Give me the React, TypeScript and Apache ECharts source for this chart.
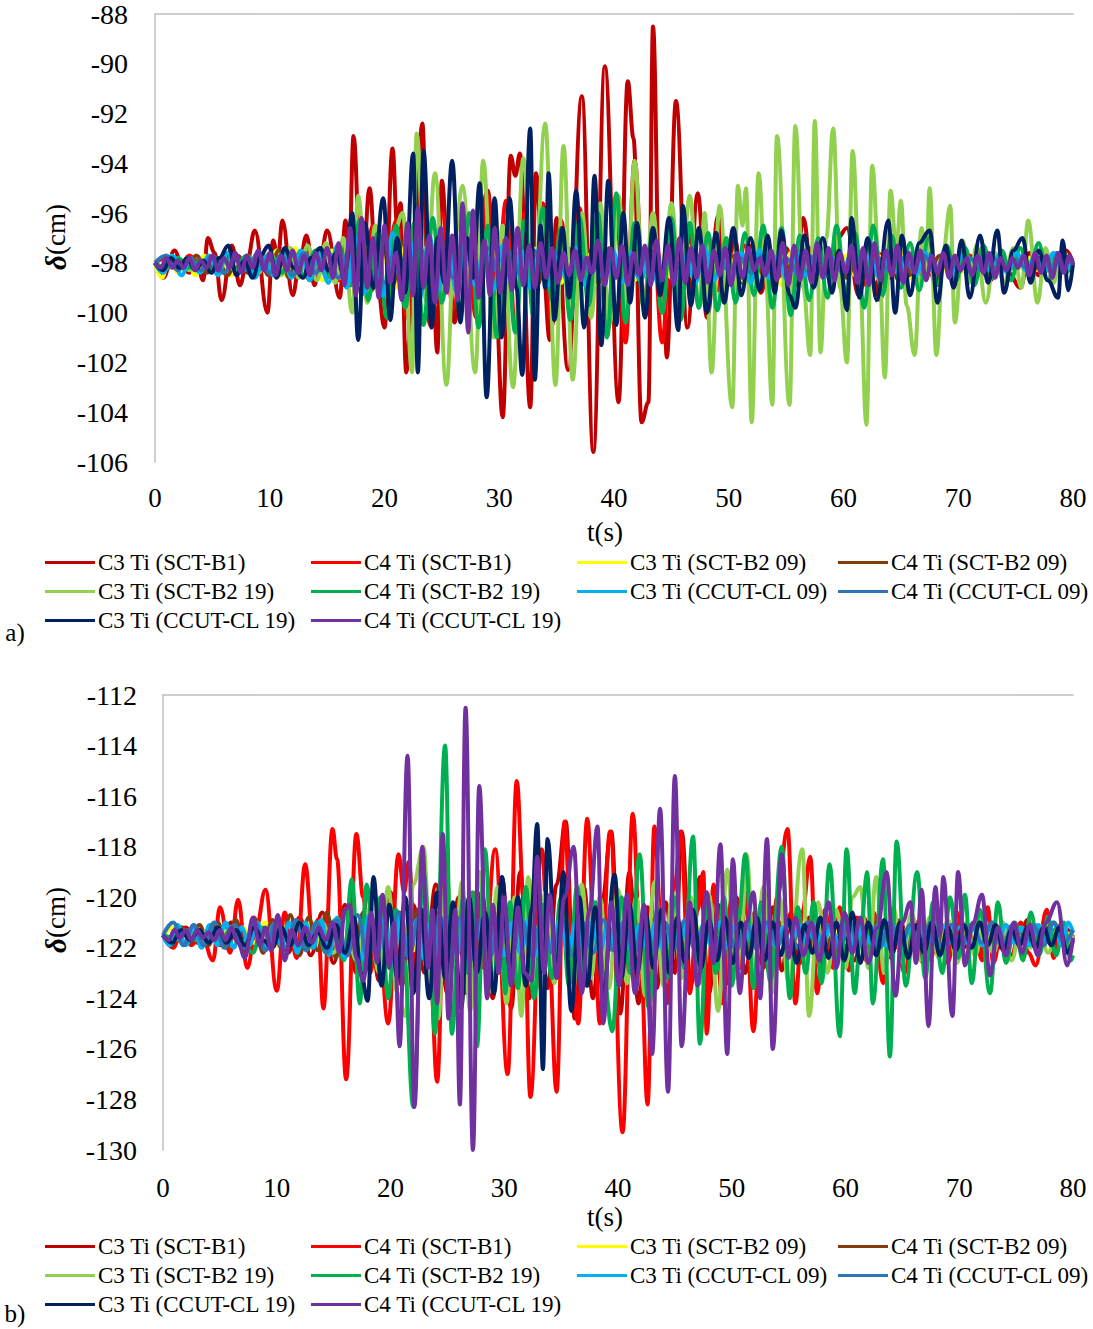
import React, { useEffect, useRef } from "react";
import * as echarts from "echarts";

const seriesNames = [
  "C3 Ti (SCT-B1)", "C4 Ti (SCT-B1)", "C3 Ti (SCT-B2 09)", "C4 Ti (SCT-B2 09)",
  "C3 Ti (SCT-B2 19)", "C4 Ti (SCT-B2 19)", "C3 Ti (CCUT-CL 09)", "C4 Ti (CCUT-CL 09)",
  "C3 Ti (CCUT-CL 19)", "C4 Ti (CCUT-CL 19)",
];
const seriesColors = [
  "#C00000", "#FF0000", "#FFFF00", "#843C0C", "#92D050",
  "#00B050", "#00B0F0", "#2E75B6", "#002060", "#7030A0",
];
const xTicks = { min: 0, max: 80, interval: 10 };
const yTicksA = { min: -106, max: -88, interval: 2 };
const yTicksB = { min: -130, max: -112, interval: 2 };

// ---------- Panel a) : [t (s), δ (cm)] ----------
const aC3B1 = [[0,-98],[0.7,-98.6],[1.7,-97.5],[2.4,-98.2],[3,-98.4],[3.6,-97.9],[4.2,-98.7],[4.6,-97.0],[5.2,-97.6],[5.8,-99.5],[6.7,-97.3],[7.4,-98.9],[8.0,-98.0],[8.7,-96.7],[9.8,-100.0],[10.3,-97.1],[10.7,-97.9],[11.1,-96.3],[12.0,-99.3],[12.6,-98.0],[13.2,-96.9],[13.9,-98.9],[14.4,-97.8],[15.0,-96.7],[16.1,-99.4],[16.6,-96.3],[16.9,-98.0],[17.3,-92.9],[18.0,-99.3],[18.7,-95.0],[19.3,-98.5],[20.0,-100.6],[20.7,-93.4],[21.1,-96.5],[21.4,-95.6],[21.9,-102.4],[22.6,-97.0],[23.3,-92.4],[23.8,-100.0],[24.2,-98.5],[24.6,-101.6],[25.0,-94.7],[25.5,-97.5],[26.1,-100.4],[26.8,-97.0],[27.5,-99.5],[28.2,-96.5],[29.0,-95.1],[29.6,-98.5],[30.3,-104.2],[31.0,-93.7],[31.4,-94.5],[31.8,-93.6],[32.7,-103.8],[33.2,-94.4],[33.8,-98.0],[34.4,-101.1],[35.0,-96.2],[36.0,-102.3],[37.2,-91.3],[38.2,-105.6],[39.2,-90.1],[40.4,-103.6],[41.2,-90.7],[41.7,-93.0],[42.4,-104.4],[43.0,-103.6],[43.4,-88.5],[44.0,-99.8],[44.3,-98.5],[44.6,-101.8],[45.4,-91.5],[46.4,-100.6],[47.3,-95.2],[48.1,-100.2],[49.1,-96.1],[49.8,-99.0],[50.5,-97.0],[51.2,-98.8],[52.0,-97.3],[52.8,-99.2],[53.6,-97.5],[54.3,-98.6],[55.0,-97.4],[55.8,-98.9],[56.5,-96.2],[57.3,-98.8],[58.0,-97.4],[58.8,-98.6],[59.5,-97.0],[60.3,-96.6],[61.3,-99.3],[62.2,-97.3],[63.2,-99.5],[64.0,-97.4],[64.8,-98.7],[65.6,-97.6],[66.4,-98.6],[67.2,-97.5],[68.0,-98.8],[68.8,-97.6],[69.6,-98.5],[70.4,-97.7],[71.2,-98.6],[72.0,-97.5],[72.8,-98.7],[73.6,-97.7],[74.4,-98.4],[75.4,-99.0],[76.2,-97.6],[77.0,-98.5],[77.8,-97.8],[78.6,-98.4],[79.4,-97.5],[80,-98.0]];
const aC4B1 = [[0,-98],[1,-97.8],[2,-98.3],[3,-97.7],[4,-98.2],[5,-97.8],[6,-98.4],[7,-97.7],[8,-98.3],[9,-97.6],[10,-98.5],[11,-97.6],[12,-98.4],[13,-97.5],[14,-98.6],[15,-97.4],[16,-98.7],[17,-97.0],[18,-99.0],[19,-96.5],[20,-99.5],[21,-96.3],[22,-100.2],[23,-95.8],[24,-100.5],[25,-96.0],[26,-99.8],[27,-96.5],[28,-100.2],[29,-95.3],[29.8,-99.0],[30.6,-95.5],[31.4,-100.6],[32.2,-96.0],[33.0,-99.7],[33.8,-95.6],[34.6,-100.5],[35.4,-96.3],[36.2,-100.0],[37.0,-95.8],[37.8,-99.4],[38.6,-96.5],[39.4,-100.8],[40.2,-96.0],[41.0,-101.2],[41.8,-93.9],[42.6,-99.5],[43.4,-96.8],[44.2,-101.2],[45.0,-96.5],[45.8,-99.8],[46.6,-96.9],[47.4,-99.6],[48.2,-97.0],[49.0,-99.1],[49.8,-97.2],[50.6,-98.8],[51.4,-97.3],[52.2,-98.6],[53.0,-97.5],[54,-98.5],[55,-97.5],[56,-98.7],[57,-97.4],[58,-98.5],[59,-97.6],[60,-98.6],[61,-97.5],[62,-98.9],[63,-97.6],[64,-98.6],[65,-97.6],[66,-98.5],[67,-97.7],[68,-98.4],[69,-97.6],[70,-98.4],[71,-97.7],[72,-98.5],[73,-97.8],[74,-98.3],[75,-97.7],[76,-98.4],[77,-97.8],[78,-98.3],[79,-97.7],[80,-97.9]];
const aC3B2_09 = [[0,-98],[0.6,-98.6],[1.3,-97.7],[2.0,-98.4],[2.8,-97.8],[3.5,-98.5],[4.3,-97.7],[5.0,-98.4],[5.8,-97.9],[6.6,-98.5],[7.4,-97.8],[8.2,-98.3],[9.0,-97.6],[9.8,-98.4],[10.6,-97.5],[11.4,-98.5],[12.2,-97.4],[13.0,-98.6],[13.8,-97.6],[14.6,-98.7],[15.4,-97.5],[16.2,-98.6],[17.0,-97.2],[17.8,-98.9],[18.6,-97.3],[19.4,-98.8],[20.2,-97.4],[21.0,-99.0],[21.8,-97.2],[22.6,-98.7],[23.4,-97.4],[24.2,-98.9],[25.0,-97.3],[25.8,-98.7],[26.6,-97.5],[27.4,-98.8],[28.2,-97.3],[29.0,-98.6],[29.8,-97.4],[30.6,-98.9],[31.4,-97.6],[32.2,-98.7],[33.0,-97.4],[33.8,-98.6],[34.6,-97.6],[35.4,-98.8],[36.2,-97.5],[37.0,-98.5],[37.8,-97.6],[38.6,-98.9],[39.4,-97.7],[40.2,-98.6],[41.0,-97.5],[41.8,-98.7],[42.6,-97.6],[43.4,-98.5],[44.2,-97.7],[45.0,-98.6],[45.8,-97.6],[46.6,-98.5],[47.4,-97.7],[48.2,-98.6],[49.0,-97.7],[49.8,-98.5],[50.6,-97.6],[51.4,-98.8],[52.2,-97.7],[53.0,-98.5],[53.8,-97.8],[54.6,-98.9],[55.4,-97.6],[56.2,-98.4],[57.0,-97.7],[57.8,-98.6],[58.6,-97.8],[59.4,-98.4],[60.2,-97.7],[61.0,-98.5],[61.8,-97.8],[62.6,-98.7],[63.4,-97.7],[64.2,-98.4],[65.0,-97.8],[65.8,-98.6],[66.6,-97.9],[67.4,-98.4],[68.2,-97.8],[69.0,-98.3],[69.8,-97.8],[70.6,-98.4],[71.4,-97.9],[72.2,-98.3],[73.0,-97.8],[73.8,-98.3],[74.6,-97.9],[75.4,-98.2],[76.2,-97.8],[77.0,-98.3],[77.8,-97.9],[78.6,-98.2],[79.4,-97.9],[80,-98.1]];
const aC4B2_09 = [[0,-98],[0.9,-98.3],[1.8,-97.8],[2.7,-98.3],[3.6,-97.7],[4.5,-98.4],[5.4,-97.8],[6.3,-98.5],[7.2,-97.7],[8.1,-98.4],[9.0,-97.6],[9.9,-98.5],[10.8,-97.5],[11.7,-98.6],[12.6,-97.6],[13.5,-98.7],[14.4,-97.4],[15.3,-98.6],[16.2,-97.3],[17.1,-98.9],[18.0,-97.0],[18.9,-99.1],[19.8,-97.1],[20.7,-98.9],[21.6,-97.2],[22.5,-99.2],[23.4,-96.9],[24.3,-98.9],[25.2,-97.2],[26.1,-99.0],[27.0,-97.3],[27.9,-98.8],[28.8,-97.1],[29.7,-99.0],[30.6,-97.3],[31.5,-98.8],[32.4,-97.4],[33.3,-98.9],[34.2,-97.5],[35.1,-98.6],[36.0,-97.4],[36.9,-98.7],[37.8,-97.5],[38.7,-98.8],[39.6,-97.4],[40.5,-98.6],[41.4,-97.6],[42.3,-98.7],[43.2,-97.5],[44.1,-98.5],[45.0,-97.6],[45.9,-98.7],[46.8,-97.4],[47.7,-98.6],[48.6,-97.6],[49.5,-98.5],[50.4,-97.7],[51.3,-98.6],[52.2,-97.6],[53.1,-98.5],[54.0,-97.7],[54.9,-98.6],[55.8,-97.6],[56.7,-98.4],[57.6,-97.8],[58.5,-98.5],[59.4,-97.6],[60.3,-98.6],[61.2,-97.7],[62.1,-98.5],[63.0,-97.8],[63.9,-98.4],[64.8,-97.7],[65.7,-98.5],[66.6,-97.8],[67.5,-98.3],[68.4,-97.7],[69.3,-98.4],[70.2,-97.8],[71.1,-98.3],[72.0,-97.9],[72.9,-98.4],[73.8,-97.8],[74.7,-98.2],[75.6,-97.9],[76.5,-98.3],[77.4,-97.8],[78.3,-98.2],[79.2,-97.9],[80,-98.1]];
const aC3B2_19 = [[0,-98],[1,-98.2],[2,-97.8],[3,-98.3],[4,-97.9],[5,-98.4],[6,-97.8],[7,-98.3],[8,-97.7],[9,-98.4],[10,-97.6],[11,-98.5],[11.8,-97.4],[12.5,-98.6],[13.3,-97.3],[14.1,-98.7],[14.9,-97.2],[15.7,-98.8],[16.4,-97.0],[17.2,-100.0],[17.7,-95.3],[18.5,-99.6],[19.2,-96.5],[20.0,-99.4],[20.8,-96.8],[21.6,-96.0],[22.4,-102.4],[22.8,-92.8],[23.6,-99.5],[24.4,-94.4],[25.4,-102.9],[26.1,-97.0],[26.8,-94.9],[27.9,-102.4],[28.6,-93.9],[29.5,-101.0],[30.3,-96.5],[31.2,-103.0],[32.1,-93.8],[33.0,-100.0],[34.0,-92.4],[34.9,-102.9],[35.6,-93.3],[36.4,-102.7],[37.2,-96.0],[38.0,-100.2],[38.8,-95.6],[39.6,-100.5],[40.4,-95.3],[41.1,-99.9],[41.8,-93.9],[42.6,-99.8],[43.4,-96.0],[44.2,-100.0],[45.0,-95.6],[45.8,-99.5],[46.6,-95.3],[47.4,-99.8],[47.9,-96.0],[48.5,-102.4],[49.2,-95.7],[50.3,-103.8],[50.8,-94.9],[51.2,-96.5],[51.5,-95.0],[52.0,-104.4],[52.6,-94.4],[53.2,-98.5],[53.8,-103.7],[54.2,-92.9],[55.3,-103.7],[55.8,-92.5],[56.5,-99.0],[57.1,-101.7],[57.5,-92.3],[58.0,-101.6],[58.5,-97.0],[59.1,-92.6],[59.7,-99.0],[60.3,-102.0],[60.8,-93.5],[61.4,-98.5],[62.0,-104.5],[62.5,-94.1],[63.1,-98.0],[63.6,-102.6],[64.1,-95.1],[64.6,-97.5],[65.0,-95.5],[65.5,-99.7],[66.2,-101.7],[66.8,-96.6],[67.2,-98.5],[67.5,-95.0],[68.1,-101.7],[68.7,-97.5],[69.3,-95.7],[69.7,-100.4],[70.4,-97.1],[71.0,-98.8],[71.6,-97.3],[72.4,-99.6],[73.2,-97.6],[74.0,-98.8],[74.8,-97.4],[75.5,-99.0],[76.1,-96.3],[76.9,-99.6],[77.6,-97.4],[78.3,-98.8],[79.0,-97.5],[80,-98.2]];
const aC4B2_19 = [[0,-98],[1,-98.2],[2,-97.8],[3,-98.2],[4,-97.9],[5,-98.3],[6,-97.8],[7,-98.2],[8,-97.7],[9,-98.3],[10,-97.7],[11,-98.4],[12,-97.6],[13,-98.5],[14,-97.5],[15,-98.6],[16,-97.3],[17,-98.9],[17.8,-96.3],[18.6,-99.5],[19.4,-96.8],[20.2,-100.2],[21.0,-96.5],[21.8,-99.8],[22.6,-96.4],[23.4,-100.5],[24.2,-96.2],[25.0,-99.6],[25.8,-97.0],[26.6,-100.0],[27.4,-96.0],[28.2,-100.6],[29.0,-96.5],[29.8,-101.0],[30.6,-97.0],[31.4,-100.8],[32.2,-96.3],[33.0,-100.2],[33.8,-95.8],[34.6,-99.5],[35.4,-96.6],[36.2,-100.3],[37.0,-96.2],[37.8,-99.7],[38.6,-96.0],[39.4,-101.0],[40.2,-95.2],[41.0,-100.4],[41.8,-96.4],[42.6,-99.8],[43.4,-96.6],[44.2,-100.0],[45.0,-96.2],[45.8,-100.3],[46.6,-96.4],[47.4,-99.8],[48.2,-96.8],[49.0,-99.9],[49.8,-97.0],[50.6,-99.6],[51.4,-96.8],[52.2,-99.3],[53.0,-96.5],[53.8,-99.8],[54.6,-96.6],[55.4,-100.1],[56.2,-96.9],[57.0,-99.5],[57.8,-97.0],[58.6,-99.4],[59.4,-96.5],[60.2,-99.2],[61.0,-96.8],[61.8,-99.8],[62.6,-96.5],[63.4,-99.3],[64.2,-96.9],[65.0,-99.0],[65.8,-97.2],[66.6,-99.1],[67.4,-97.0],[68.2,-98.9],[69.0,-97.3],[69.8,-98.7],[70.6,-97.4],[71.4,-98.9],[72.2,-97.3],[73.0,-98.6],[73.8,-97.5],[74.6,-98.7],[75.4,-97.4],[76.2,-98.5],[77.0,-97.2],[77.8,-98.7],[78.6,-97.6],[79.4,-98.4],[80,-97.9]];
const aC3CL09 = [[0,-98],[0.7,-98.4],[1.5,-97.7],[2.3,-98.5],[3.1,-97.8],[3.9,-98.4],[4.7,-97.7],[5.5,-98.5],[6.3,-97.6],[7.1,-98.4],[7.9,-97.8],[8.7,-98.6],[9.5,-97.7],[10.3,-98.5],[11.1,-97.6],[11.9,-98.6],[12.7,-97.5],[13.5,-98.7],[14.3,-97.6],[15.1,-98.8],[15.9,-97.3],[16.7,-99.0],[17.5,-97.0],[18.3,-99.2],[19.1,-97.1],[19.9,-99.3],[20.7,-96.8],[21.5,-99.0],[22.3,-97.2],[23.1,-99.4],[23.9,-96.9],[24.7,-99.1],[25.5,-97.3],[26.3,-99.2],[27.1,-97.0],[27.9,-98.9],[28.7,-97.4],[29.5,-99.1],[30.3,-97.3],[31.1,-98.8],[31.9,-97.5],[32.7,-99.0],[33.5,-97.4],[34.3,-98.9],[35.1,-97.6],[35.9,-98.7],[36.7,-97.4],[37.5,-98.9],[38.3,-97.6],[39.1,-98.6],[39.9,-97.5],[40.7,-98.8],[41.5,-97.6],[42.3,-98.7],[43.1,-97.6],[43.9,-98.9],[44.7,-97.5],[45.5,-98.6],[46.3,-97.7],[47.1,-98.8],[47.9,-97.4],[48.7,-98.7],[49.5,-97.7],[50.3,-98.6],[51.1,-97.6],[51.9,-98.8],[52.7,-97.5],[53.5,-98.6],[54.3,-97.7],[55.1,-98.7],[55.9,-97.6],[56.7,-98.5],[57.5,-97.7],[58.3,-98.6],[59.1,-97.8],[59.9,-98.4],[60.7,-97.6],[61.5,-98.5],[62.3,-97.7],[63.1,-98.6],[63.9,-97.8],[64.7,-98.4],[65.5,-97.7],[66.3,-98.5],[67.1,-97.6],[67.9,-98.4],[68.7,-97.8],[69.5,-98.5],[70.3,-97.7],[71.1,-98.4],[71.9,-97.8],[72.7,-98.3],[73.5,-97.7],[74.3,-98.4],[75.1,-97.6],[75.9,-98.3],[76.7,-97.7],[77.5,-98.4],[78.3,-97.6],[79.1,-98.3],[80,-98.0]];
const aC4CL09 = [[0,-98],[1.0,-97.7],[2.0,-98.3],[3.0,-97.8],[4.0,-98.3],[5.0,-97.7],[6.0,-98.4],[7.0,-97.8],[8.0,-98.3],[9.0,-97.6],[10.0,-98.4],[11.0,-97.7],[12.0,-98.5],[13.0,-97.6],[14.0,-98.4],[15.0,-97.5],[16.0,-98.6],[17.0,-97.4],[18.0,-98.7],[19.0,-97.3],[20.0,-98.8],[21.0,-97.4],[22.0,-98.6],[23.0,-97.3],[24.0,-98.7],[25.0,-97.4],[26.0,-98.6],[27.0,-97.5],[28.0,-98.7],[29.0,-97.4],[30.0,-98.5],[31.0,-97.6],[32.0,-98.6],[33.0,-97.5],[34.0,-98.4],[35.0,-97.6],[36.0,-98.5],[37.0,-97.7],[38.0,-98.4],[39.0,-97.6],[40.0,-98.5],[41.0,-97.7],[42.0,-98.4],[43.0,-97.6],[44.0,-98.5],[45.0,-97.7],[46.0,-98.3],[47.0,-97.6],[48.0,-98.4],[49.0,-97.7],[50.0,-98.3],[51.0,-97.8],[52.0,-98.4],[53.0,-97.7],[54.0,-98.3],[55.0,-97.8],[56.0,-98.4],[57.0,-97.7],[58.0,-98.3],[59.0,-97.8],[60.0,-98.4],[61.0,-97.7],[62.0,-98.3],[63.0,-97.8],[64.0,-98.3],[65.0,-97.8],[66.0,-98.2],[67.0,-97.7],[68.0,-98.3],[69.0,-97.8],[70.0,-98.2],[71.0,-97.8],[72.0,-98.3],[73.0,-97.8],[74.0,-98.2],[75.0,-97.9],[76.0,-98.2],[77.0,-97.8],[78.0,-98.2],[79.0,-97.9],[80,-98.0]];
const aC3CL19 = [[0,-98],[0.7,-98.3],[1.4,-97.8],[2.1,-98.2],[2.8,-97.8],[3.5,-98.3],[4.2,-97.9],[4.9,-98.4],[5.6,-97.8],[6.4,-97.3],[7.1,-98.5],[7.8,-97.9],[8.5,-98.6],[9.2,-97.7],[9.9,-97.3],[10.6,-98.6],[11.3,-97.4],[12.1,-98.2],[12.9,-98.6],[13.6,-97.8],[14.4,-97.4],[15.1,-98.3],[15.8,-97.6],[16.5,-98.6],[17.2,-96.0],[17.7,-101.1],[18.3,-96.4],[19.0,-99.0],[19.9,-95.4],[20.5,-100.3],[21.1,-97.0],[21.8,-99.2],[22.5,-93.6],[22.9,-102.4],[23.4,-93.5],[24.1,-100.6],[24.6,-97.0],[25.2,-98.8],[25.9,-93.9],[26.6,-100.4],[27.2,-97.0],[27.7,-98.6],[28.3,-94.8],[28.9,-103.4],[29.6,-95.4],[30.2,-101.0],[30.9,-95.4],[31.5,-99.0],[32.0,-102.5],[32.7,-92.6],[33.1,-102.7],[33.6,-96.5],[34.0,-99.0],[34.3,-94.4],[34.8,-100.3],[35.5,-96.6],[36.1,-99.4],[36.7,-95.1],[37.4,-100.6],[37.9,-98.5],[38.3,-94.5],[38.9,-101.3],[39.5,-94.7],[40.2,-100.5],[40.8,-96.0],[41.4,-99.6],[42.0,-96.4],[42.7,-100.2],[43.4,-96.6],[44.0,-99.3],[44.8,-96.2],[45.6,-100.7],[46.0,-95.7],[46.7,-99.7],[47.4,-96.6],[48.1,-100.0],[48.9,-96.8],[49.6,-99.6],[50.4,-96.6],[51.1,-99.3],[51.9,-97.0],[52.7,-99.1],[53.4,-96.9],[54.0,-99.2],[54.6,-96.7],[55.3,-99.3],[55.8,-99.8],[56.6,-96.9],[57.4,-99.0],[58.2,-97.0],[59.0,-99.2],[59.6,-97.5],[60.3,-99.9],[60.7,-96.2],[61.4,-99.4],[62.1,-97.0],[62.9,-99.5],[63.9,-96.3],[64.5,-100.0],[65.1,-96.9],[65.8,-99.3],[66.6,-97.2],[67.5,-96.7],[68.2,-99.6],[68.9,-97.3],[69.6,-99.0],[70.3,-97.1],[71.0,-99.4],[71.9,-96.9],[72.6,-98.8],[73.4,-96.7],[74.0,-99.2],[74.8,-97.5],[75.6,-97.0],[76.3,-98.8],[77.0,-97.5],[77.8,-98.7],[78.7,-99.4],[79.1,-97.1],[79.6,-99.1],[80,-98.0]];
const aC4CL19 = [[0,-98],[0.5,-98.2],[1,-97.8],[1.5,-98.2],[2,-97.9],[2.5,-98.2],[3,-97.8],[3.5,-98.3],[4,-97.9],[4.5,-98.2],[5,-97.7],[5.5,-98.3],[6,-97.8],[6.5,-98.2],[7,-97.6],[7.5,-98.4],[8,-97.7],[8.5,-98.2],[9,-97.5],[9.5,-98.3],[10,-97.6],[10.5,-98.5],[11,-97.7],[11.5,-98.3],[12,-97.5],[12.5,-98.4],[13,-97.7],[13.5,-98.5],[14,-97.6],[14.5,-98.3],[15,-97.4],[15.5,-98.6],[16,-97.2],[16.5,-98.9],[17,-96.6],[17.5,-99.3],[18,-96.2],[18.5,-99.0],[19,-97.0],[19.5,-99.4],[20,-96.5],[20.5,-98.8],[21,-97.6],[21.5,-99.5],[22,-96.4],[22.5,-99.3],[22.9,-95.8],[23.4,-99.0],[23.9,-96.9],[24.4,-99.6],[24.9,-96.6],[25.4,-99.2],[25.9,-96.9],[26.4,-99.5],[26.8,-95.6],[27.3,-100.8],[27.7,-95.9],[28.2,-99.4],[28.7,-97.1],[29.2,-99.3],[29.6,-96.6],[30.1,-99.2],[30.6,-97.0],[31.1,-99.1],[31.6,-96.6],[32.1,-98.9],[32.6,-97.3],[33.1,-99.0],[33.6,-97.2],[34.1,-98.6],[34.6,-97.4],[35.1,-98.8],[35.6,-97.6],[36.1,-98.5],[36.6,-97.5],[37.1,-98.7],[37.6,-97.8],[38.1,-98.4],[38.6,-97.1],[39.2,-98.9],[39.7,-97.4],[40.2,-98.6],[40.7,-97.3],[41.2,-98.9],[41.7,-97.6],[42.2,-98.5],[42.7,-97.3],[43.2,-98.9],[43.7,-97.1],[44.2,-98.7],[44.7,-97.3],[45.2,-98.9],[45.7,-97.0],[46.2,-98.8],[46.7,-97.4],[47.2,-98.6],[47.7,-97.3],[48.2,-98.8],[48.7,-97.5],[49.2,-98.5],[49.7,-97.4],[50.2,-98.9],[50.7,-97.6],[51.2,-98.6],[51.7,-97.4],[52.2,-98.3],[52.7,-97.8],[53.2,-98.5],[53.7,-97.5],[54.2,-98.7],[54.7,-97.2],[55.2,-98.9],[55.7,-97.3],[56.2,-98.7],[56.7,-97.5],[57.2,-98.8],[57.7,-97.2],[58.2,-98.6],[58.7,-97.4],[59.2,-98.7],[59.7,-97.6],[60.2,-98.4],[60.7,-97.3],[61.2,-98.8],[61.7,-97.4],[62.2,-98.9],[62.7,-97.2],[63.2,-98.7],[63.7,-97.5],[64.2,-98.5],[64.7,-97.3],[65.2,-98.8],[65.7,-97.6],[66.2,-98.4],[66.7,-97.5],[67.2,-98.7],[67.7,-97.7],[68.2,-98.4],[68.7,-97.6],[69.2,-98.6],[69.7,-97.7],[70.2,-98.3],[70.7,-97.8],[71.2,-98.5],[71.7,-97.7],[72.2,-98.4],[72.7,-97.6],[73.2,-98.6],[73.7,-97.8],[74.2,-98.3],[74.7,-97.8],[75.2,-98.2],[75.7,-97.7],[76.2,-98.5],[76.7,-97.6],[77.2,-98.4],[77.7,-97.7],[78.2,-98.6],[78.7,-97.6],[79.2,-98.4],[79.7,-97.7],[80,-98.1]];

// ---------- Panel b) : [t (s), δ (cm)] ----------
const bC3B1 = [[0,-121.5],[1,-121.8],[2,-121.2],[3,-121.8],[4,-121.3],[5,-121.9],[6,-121.0],[7,-122.0],[8,-121.1],[9,-121.9],[10,-121.0],[11,-122.2],[12,-120.8],[13,-122.3],[14,-120.6],[15,-122.6],[16,-120.3],[17,-123.0],[18,-120.0],[19,-123.3],[20,-119.8],[21,-123.5],[22,-120.3],[23,-123.0],[24,-119.5],[25,-123.8],[26,-120.0],[27,-123.4],[28,-119.8],[29,-124.0],[29.8,-119.2],[30.6,-124.4],[31.4,-119.0],[32.2,-124.0],[33.0,-120.2],[33.8,-123.6],[34.6,-119.5],[35.4,-117.0],[36.2,-124.8],[37.0,-119.6],[37.8,-124.0],[38.6,-120.2],[39.4,-117.4],[40.2,-124.6],[41.0,-119.0],[41.8,-124.2],[42.6,-120.4],[43.4,-123.6],[44.2,-120.2],[45.0,-123.0],[45.6,-117.4],[46.4,-123.5],[47.2,-119.2],[48.0,-123.8],[48.8,-120.3],[49.6,-123.4],[50.4,-120.0],[51.2,-123.0],[52.0,-120.6],[52.8,-122.8],[53.6,-120.4],[54.4,-122.9],[55.2,-120.6],[56.0,-122.6],[56.8,-120.8],[57.6,-122.4],[58.4,-120.9],[59.2,-122.3],[60.0,-120.7],[60.8,-122.5],[61.6,-120.8],[62.4,-122.2],[63.2,-121.0],[64.0,-122.4],[64.8,-120.9],[65.6,-122.2],[66.4,-121.0],[67.2,-122.1],[68.0,-120.8],[68.8,-122.2],[69.6,-121.0],[70.4,-122.0],[71.2,-121.2],[72.0,-122.1],[72.8,-121.0],[73.6,-122.0],[74.4,-121.2],[75.2,-121.9],[76.0,-120.9],[76.8,-122.1],[77.6,-121.2],[78.4,-121.9],[79.2,-121.2],[80,-121.6]];
const bC4B1 = [[0,-121.5],[0.9,-122.0],[1.7,-121.2],[2.5,-121.9],[3.3,-121.3],[4.4,-122.5],[5.0,-120.4],[5.9,-122.2],[6.6,-120.1],[7.4,-122.8],[8.2,-121.2],[9.0,-119.7],[10.0,-123.7],[10.7,-120.6],[11.2,-121.5],[11.75,-122.4],[12.5,-118.7],[13.2,-121.8],[13.6,-120.9],[14.1,-124.4],[14.9,-117.3],[15.3,-118.5],[16.1,-127.2],[17.0,-117.5],[17.6,-120.0],[18.2,-123.0],[18.9,-121.0],[19.8,-125.0],[20.7,-118.3],[21.2,-119.8],[21.6,-118.6],[22.3,-123.5],[22.9,-120.5],[23.5,-123.0],[24.1,-127.3],[24.8,-118.5],[25.5,-122.5],[26.0,-121.0],[26.7,-123.8],[27.5,-119.8],[28.2,-122.8],[29.2,-118.1],[30.3,-127.0],[31.1,-115.4],[31.7,-120.0],[32.3,-127.9],[33.3,-118.1],[33.9,-122.0],[34.6,-127.7],[35.3,-117.0],[35.9,-121.5],[36.5,-125.0],[37.3,-116.9],[37.9,-121.2],[38.4,-125.0],[39.3,-117.4],[40.4,-129.3],[41.3,-116.7],[42.0,-122.5],[42.6,-128.2],[43.2,-117.2],[43.8,-121.0],[44.3,-124.2],[45.0,-119.5],[45.5,-117.4],[46.3,-123.8],[47.0,-120.5],[47.5,-119.0],[47.8,-125.4],[48.4,-119.5],[49.2,-124.2],[50.0,-120.0],[50.7,-122.8],[51.2,-119.8],[51.9,-125.3],[52.6,-120.5],[53.3,-123.0],[54.0,-120.0],[54.9,-117.3],[55.6,-124.2],[56.2,-120.6],[56.9,-118.4],[57.5,-123.8],[58.2,-120.5],[58.9,-122.8],[59.5,-120.4],[60.3,-122.9],[61.0,-120.8],[61.8,-122.5],[62.5,-120.6],[63.3,-123.4],[64.0,-121.0],[64.6,-122.0],[65.2,-123.0],[66.0,-120.9],[66.8,-122.6],[67.5,-122.4],[68.2,-121.0],[69.0,-122.6],[69.8,-120.6],[70.6,-122.5],[71.3,-121.0],[72.0,-122.5],[72.5,-120.4],[73.0,-122.6],[73.8,-121.0],[74.6,-122.3],[75.4,-121.0],[76.1,-122.2],[76.7,-122.7],[77.7,-120.5],[78.3,-122.4],[79.0,-121.0],[79.6,-122.0],[80,-121.5]];
const bC3B2_09 = [[0,-121.5],[1,-121.2],[2,-121.8],[3,-121.2],[4,-121.8],[5,-121.1],[6,-121.9],[7,-121.2],[8,-121.8],[9,-121.0],[10,-121.9],[11,-121.1],[12,-122.0],[13,-121.0],[14,-121.9],[15,-121.1],[16,-122.0],[17,-121.0],[18,-122.1],[19,-120.9],[20,-122.0],[21,-121.0],[22,-122.1],[23,-120.9],[24,-122.0],[25,-121.1],[26,-121.9],[27,-121.0],[28,-122.0],[29,-121.1],[30,-121.9],[31,-121.1],[32,-121.8],[33,-121.2],[34,-121.9],[35,-121.1],[36,-121.8],[37,-121.2],[38,-121.9],[39,-121.2],[40,-121.8],[41,-121.1],[42,-121.9],[43,-121.2],[44,-121.8],[45,-121.2],[46,-121.7],[47,-121.2],[48,-121.8],[49,-121.3],[50,-121.7],[51,-121.2],[52,-121.8],[53,-121.3],[54,-121.7],[55,-121.2],[56,-121.8],[57,-121.3],[58,-121.7],[59,-121.3],[60,-121.8],[61,-121.3],[62,-121.7],[63,-121.3],[64,-121.7],[65,-121.3],[66,-121.7],[67,-121.4],[68,-121.7],[69,-121.3],[70,-121.6],[71,-121.4],[72,-121.7],[73,-121.4],[74,-121.6],[75,-121.4],[76,-121.7],[77,-121.4],[78,-121.6],[79,-121.4],[80,-121.5]];
const bC4B2_09 = [[0,-121.5],[0.8,-121.9],[1.6,-121.2],[2.4,-121.8],[3.2,-121.1],[4.0,-121.9],[4.8,-121.0],[5.6,-122.0],[6.4,-120.9],[7.2,-122.1],[8.0,-120.8],[8.8,-122.2],[9.6,-120.9],[10.4,-122.0],[11.2,-120.7],[12.0,-122.3],[12.8,-120.8],[13.6,-122.1],[14.4,-120.6],[15.2,-122.4],[16.0,-120.5],[16.8,-122.5],[17.6,-120.6],[18.4,-122.6],[19.2,-120.4],[20.0,-122.5],[20.8,-120.6],[21.6,-122.4],[22.4,-120.5],[23.2,-122.6],[24.0,-120.6],[24.8,-122.3],[25.6,-120.7],[26.4,-122.4],[27.2,-120.5],[28.0,-122.3],[28.8,-120.8],[29.6,-122.2],[30.4,-120.7],[31.2,-122.4],[32.0,-120.8],[32.8,-122.2],[33.6,-120.9],[34.4,-122.1],[35.2,-120.7],[36.0,-122.3],[36.8,-120.9],[37.6,-122.2],[38.4,-120.8],[39.2,-122.1],[40.0,-120.9],[40.8,-122.2],[41.6,-120.8],[42.4,-122.0],[43.2,-120.9],[44.0,-122.1],[44.8,-121.0],[45.6,-122.0],[46.4,-120.9],[47.2,-122.1],[48.0,-121.0],[48.8,-122.0],[49.6,-120.9],[50.4,-121.9],[51.2,-121.0],[52.0,-122.0],[52.8,-121.1],[53.6,-121.9],[54.4,-121.0],[55.2,-122.0],[56.0,-121.1],[56.8,-121.9],[57.6,-121.0],[58.4,-121.9],[59.2,-121.1],[60.0,-122.0],[60.8,-121.1],[61.6,-121.8],[62.4,-121.0],[63.2,-121.9],[64.0,-121.1],[64.8,-121.8],[65.6,-121.2],[66.4,-121.9],[67.2,-121.1],[68.0,-121.8],[68.8,-121.2],[69.6,-121.8],[70.4,-121.2],[71.2,-121.7],[72.0,-121.1],[72.8,-121.8],[73.6,-121.2],[74.4,-121.7],[75.2,-121.2],[76.0,-121.8],[76.8,-121.2],[77.6,-121.7],[78.4,-121.3],[79.2,-121.8],[80,-121.5]];
const bC3B2_19 = [[0,-121.5],[1,-121.7],[2,-121.3],[3,-121.7],[4,-121.3],[5,-121.8],[6,-121.2],[7,-121.8],[8,-121.2],[9,-121.9],[10,-121.1],[11,-121.9],[12,-121.0],[13,-122.0],[14,-121.0],[15,-122.2],[16,-120.8],[17,-122.5],[18,-120.5],[19,-123.0],[19.8,-119.6],[20.6,-123.8],[21.3,-124.7],[22.0,-119.5],[22.9,-118.0],[23.6,-123.5],[24.2,-124.8],[24.9,-119.0],[25.6,-122.5],[26.3,-119.4],[27.0,-124.5],[27.8,-119.0],[28.6,-123.8],[29.4,-119.6],[30.2,-124.2],[30.9,-120.0],[31.5,-124.7],[32.1,-119.2],[32.9,-123.6],[33.6,-119.8],[34.4,-123.4],[35.2,-120.0],[36.0,-123.8],[36.8,-119.5],[37.6,-123.2],[38.4,-120.0],[39.2,-123.6],[40.0,-119.7],[40.8,-123.4],[41.6,-120.0],[42.4,-123.9],[43.2,-119.4],[44.0,-123.5],[44.8,-119.8],[45.6,-123.2],[46.4,-120.0],[47.2,-123.4],[48.0,-119.9],[48.8,-124.5],[49.6,-118.9],[50.4,-123.2],[50.9,-121.0],[51.3,-118.3],[52.0,-123.0],[52.8,-119.6],[53.5,-123.8],[54.2,-120.0],[55.0,-123.4],[56.2,-118.1],[56.8,-124.7],[57.6,-120.2],[58.4,-123.0],[59.2,-120.5],[60.0,-122.8],[60.6,-120.0],[61.3,-119.6],[62.0,-122.8],[62.7,-119.2],[63.4,-123.0],[64.2,-120.4],[65.0,-122.6],[65.8,-120.6],[66.6,-122.5],[67.4,-120.8],[68.2,-122.4],[69.0,-120.9],[69.8,-122.6],[70.6,-121.0],[71.4,-122.3],[72.2,-120.9],[73.0,-122.2],[73.8,-121.0],[74.6,-122.5],[75.4,-121.2],[76.2,-122.0],[77.0,-121.1],[77.8,-122.2],[78.6,-121.3],[79.4,-121.9],[80,-121.5]];
const bC4B2_19 = [[0,-121.5],[1,-121.6],[2,-121.3],[3,-121.7],[4,-121.4],[5,-121.7],[6,-121.3],[7,-121.8],[7.9,-122.2],[8.7,-121.2],[9.5,-121.9],[10.3,-121.2],[11.1,-121.8],[11.9,-121.1],[12.7,-122.0],[13.5,-121.0],[14.3,-122.2],[15.1,-120.9],[15.9,-122.5],[16.6,-119.3],[17.3,-124.2],[17.9,-119.5],[18.5,-121.5],[19.1,-120.0],[19.8,-124.0],[20.5,-120.5],[21.2,-122.5],[22.0,-128.3],[22.9,-119.0],[23.4,-121.0],[23.9,-125.4],[24.8,-114.0],[25.4,-125.4],[26.0,-121.5],[26.4,-120.0],[26.8,-123.0],[27.2,-119.8],[27.6,-125.9],[28.3,-118.1],[29.0,-123.5],[29.7,-121.0],[30.1,-123.8],[30.5,-120.2],[31.2,-123.6],[31.9,-119.6],[32.6,-124.0],[33.4,-120.3],[34.2,-123.2],[35.0,-120.0],[35.7,-123.5],[36.4,-119.6],[37.2,-123.5],[38.0,-120.2],[38.7,-123.0],[39.5,-125.3],[40.3,-120.0],[41.1,-123.0],[41.9,-118.3],[42.7,-124.4],[43.5,-120.4],[44.3,-123.2],[45.0,-120.0],[45.8,-122.8],[46.6,-117.6],[47.2,-125.8],[47.9,-120.2],[48.6,-123.0],[49.3,-120.0],[50.0,-123.5],[50.6,-120.8],[51.2,-118.3],[51.9,-123.6],[52.6,-120.2],[53.4,-123.3],[54.4,-118.0],[55.1,-124.0],[55.8,-120.4],[56.5,-123.0],[57.2,-120.2],[57.9,-123.4],[58.6,-118.7],[59.5,-125.5],[60.1,-118.1],[60.8,-123.8],[61.4,-121.0],[61.9,-119.0],[62.4,-124.2],[63.3,-118.5],[63.9,-126.3],[64.5,-117.8],[65.3,-123.5],[66.3,-119.0],[67.0,-123.2],[67.7,-120.2],[68.5,-123.0],[69.2,-120.0],[69.9,-122.4],[70.5,-119.9],[71.1,-123.4],[71.8,-120.5],[72.7,-123.8],[73.4,-120.2],[74.1,-122.6],[74.9,-121.0],[75.6,-122.5],[76.3,-120.6],[77.0,-122.3],[77.8,-120.8],[78.5,-122.3],[79.2,-121.0],[79.8,-122.5],[80,-122.3]];
const bC3CL09 = [[0,-121.5],[0.6,-121.9],[1.3,-121.1],[2.0,-121.9],[2.7,-121.2],[3.4,-122.0],[4.1,-121.1],[4.8,-121.9],[5.5,-121.0],[6.2,-122.0],[6.9,-121.2],[7.6,-121.9],[8.3,-121.0],[9.0,-122.1],[9.7,-121.1],[10.4,-121.9],[11.1,-121.0],[11.8,-122.2],[12.5,-121.0],[13.2,-122.0],[13.9,-120.9],[14.6,-122.3],[15.3,-120.8],[16.0,-122.4],[16.7,-120.9],[17.4,-122.5],[18.1,-120.7],[18.8,-122.4],[19.5,-120.8],[20.2,-122.6],[20.9,-120.7],[21.6,-122.3],[22.3,-120.9],[23.0,-122.5],[23.7,-120.8],[24.4,-122.4],[25.1,-120.9],[25.8,-122.3],[26.5,-120.8],[27.2,-122.4],[27.9,-121.0],[28.6,-122.2],[29.3,-120.9],[30.0,-122.3],[30.7,-121.0],[31.4,-122.2],[32.1,-120.9],[32.8,-122.3],[33.5,-121.0],[34.2,-122.1],[34.9,-120.9],[35.6,-122.2],[36.3,-121.0],[37.0,-122.1],[37.7,-121.0],[38.4,-122.2],[39.1,-121.1],[39.8,-122.0],[40.5,-121.0],[41.2,-122.1],[41.9,-121.1],[42.6,-122.0],[43.3,-121.0],[44.0,-122.1],[44.7,-121.1],[45.4,-121.9],[46.1,-121.0],[46.8,-122.0],[47.5,-121.1],[48.2,-121.9],[48.9,-121.0],[49.6,-122.0],[50.3,-121.1],[51.0,-121.9],[51.7,-121.2],[52.4,-122.0],[53.1,-121.1],[53.8,-121.9],[54.5,-121.2],[55.2,-121.9],[55.9,-121.1],[56.6,-121.8],[57.3,-121.1],[58.0,-121.9],[58.7,-121.2],[59.4,-121.8],[60.1,-121.1],[60.8,-121.9],[61.5,-121.2],[62.2,-121.8],[62.9,-121.1],[63.6,-121.9],[64.3,-121.2],[65.0,-121.8],[65.7,-121.2],[66.4,-121.9],[67.1,-121.2],[67.8,-121.8],[68.5,-121.1],[69.2,-121.8],[69.9,-121.2],[70.6,-121.8],[71.3,-121.2],[72.0,-121.9],[72.7,-121.2],[73.4,-121.8],[74.1,-121.1],[74.8,-121.8],[75.5,-121.2],[76.2,-121.9],[76.9,-121.1],[77.6,-121.8],[78.3,-121.0],[79.0,-121.9],[79.6,-121.0],[80,-121.4]];
const bC4CL09 = [[0,-121.5],[0.9,-121.0],[1.8,-121.9],[2.7,-121.1],[3.6,-121.9],[4.5,-121.0],[5.4,-122.0],[6.3,-121.1],[7.2,-122.0],[8.1,-121.0],[9.0,-122.1],[9.9,-121.0],[10.8,-122.0],[11.7,-120.9],[12.6,-122.1],[13.5,-121.0],[14.4,-122.2],[15.3,-120.9],[16.2,-122.3],[17.1,-120.7],[18.0,-122.4],[18.9,-120.8],[19.8,-122.5],[20.7,-120.6],[21.6,-122.4],[22.5,-120.8],[23.4,-122.6],[24.3,-120.7],[25.2,-122.4],[26.1,-120.8],[27.0,-122.5],[27.9,-120.9],[28.8,-122.3],[29.7,-120.8],[30.6,-122.4],[31.5,-120.9],[32.4,-122.3],[33.3,-120.8],[34.2,-122.2],[35.1,-120.9],[36.0,-122.3],[36.9,-121.0],[37.8,-122.2],[38.7,-120.9],[39.6,-122.1],[40.5,-121.0],[41.4,-122.2],[42.3,-120.9],[43.2,-122.1],[44.1,-121.0],[45.0,-122.0],[45.9,-120.9],[46.8,-122.1],[47.7,-121.0],[48.6,-122.0],[49.5,-121.0],[50.4,-122.1],[51.3,-121.1],[52.2,-122.0],[53.1,-121.0],[54.0,-121.9],[54.9,-121.1],[55.8,-122.0],[56.7,-121.0],[57.6,-121.9],[58.5,-121.1],[59.4,-122.0],[60.3,-121.0],[61.2,-121.9],[62.1,-121.1],[63.0,-122.0],[63.9,-121.0],[64.8,-121.9],[65.7,-121.1],[66.6,-121.9],[67.5,-121.0],[68.4,-121.9],[69.3,-121.1],[70.2,-121.9],[71.1,-121.1],[72.0,-121.8],[72.9,-121.0],[73.8,-121.9],[74.7,-121.1],[75.6,-121.8],[76.5,-121.1],[77.4,-121.9],[78.3,-121.0],[79.2,-121.8],[80,-121.3]];
const bC3CL19 = [[0,-121.5],[0.8,-121.8],[1.6,-121.3],[2.4,-121.7],[3.2,-121.3],[4,-121.8],[4.8,-121.2],[5.6,-121.8],[6.4,-121.3],[7.2,-121.9],[8,-121.2],[8.8,-121.7],[9.6,-122.0],[10.4,-121.2],[11.2,-121.9],[12,-121.0],[12.8,-121.9],[13.6,-121.4],[14.4,-122.0],[15.2,-121.1],[16.0,-122.2],[16.8,-120.8],[17.4,-123.0],[18.0,-124.1],[18.5,-119.2],[19.2,-123.5],[19.9,-120.3],[20.6,-123.2],[21.3,-120.0],[22.0,-123.8],[22.7,-120.5],[23.4,-124.0],[24.1,-119.8],[24.8,-123.2],[25.5,-120.2],[26.2,-124.4],[26.9,-120.0],[27.6,-123.0],[28.3,-120.6],[29.1,-123.8],[29.8,-119.2],[30.5,-122.8],[31.2,-120.0],[31.9,-123.5],[32.4,-120.5],[32.9,-117.1],[33.4,-126.8],[33.8,-117.7],[34.6,-123.0],[35.2,-119.0],[35.9,-124.5],[36.6,-120.0],[37.3,-123.5],[38.0,-120.4],[38.7,-123.8],[39.7,-119.1],[40.3,-123.2],[41.0,-120.3],[41.7,-123.0],[42.4,-120.6],[43.1,-122.8],[43.8,-120.5],[44.5,-123.0],[45.2,-120.8],[45.9,-122.6],[46.6,-120.5],[47.3,-122.8],[48.0,-120.9],[48.7,-122.5],[49.4,-120.8],[50.1,-122.6],[50.8,-121.0],[51.5,-122.4],[52.2,-120.8],[52.9,-122.5],[53.6,-121.0],[54.3,-122.3],[55.0,-120.9],[55.7,-122.6],[56.4,-121.1],[57.1,-122.2],[57.8,-120.8],[58.5,-122.4],[59.2,-121.0],[59.9,-122.5],[60.6,-120.6],[61.3,-122.6],[62.0,-121.0],[62.7,-122.3],[63.4,-120.9],[64.1,-122.2],[64.8,-121.0],[65.5,-122.4],[66.2,-121.1],[66.9,-122.2],[67.6,-121.0],[68.3,-122.3],[69.0,-121.2],[69.7,-122.1],[70.4,-121.1],[71.1,-122.0],[71.8,-121.0],[72.5,-121.9],[73.2,-121.1],[73.9,-122.1],[74.6,-121.3],[75.3,-121.9],[76.0,-121.2],[76.7,-122.0],[77.4,-121.2],[78.1,-121.9],[78.8,-121.2],[79.5,-122.2],[80,-121.7]];
const bC4CL19 = [[0,-121.5],[0.5,-121.7],[1,-121.3],[1.5,-121.6],[2,-121.3],[2.5,-121.7],[3,-121.3],[3.5,-121.6],[4,-121.4],[4.5,-121.7],[5,-121.3],[5.5,-121.7],[6,-121.2],[6.6,-121.8],[7.2,-122.4],[7.9,-120.8],[8.5,-121.9],[9.0,-121.2],[9.5,-122.1],[10.1,-120.7],[10.7,-122.5],[11.3,-121.3],[11.9,-121.9],[12.5,-121.2],[13.1,-121.8],[13.7,-121.2],[14.3,-121.7],[14.9,-121.0],[15.5,-122.2],[16.0,-120.5],[16.4,-120.3],[17.0,-122.4],[17.6,-123.3],[18.3,-120.6],[18.8,-122.6],[19.3,-119.9],[19.9,-122.8],[20.3,-121.0],[20.8,-125.9],[21.5,-114.4],[22.1,-128.3],[22.8,-118.0],[23.3,-122.8],[23.7,-120.5],[24.1,-124.2],[24.6,-117.5],[25.1,-124.8],[25.7,-120.5],[26.1,-128.2],[26.6,-112.5],[27.25,-130.0],[27.8,-115.6],[28.5,-124.0],[29.0,-120.3],[29.5,-123.0],[30.0,-120.0],[30.6,-123.5],[31.2,-120.4],[31.8,-123.0],[32.4,-123.3],[32.9,-118.4],[33.5,-123.0],[34.0,-119.9],[34.6,-123.2],[35.3,-120.0],[36.1,-118.0],[36.8,-123.8],[37.5,-120.5],[38.2,-117.2],[38.7,-125.0],[39.4,-120.2],[40.1,-123.5],[40.8,-119.9],[41.5,-123.8],[42.3,-120.3],[43.0,-126.2],[43.7,-116.5],[44.4,-127.7],[45.0,-115.2],[45.6,-125.9],[46.3,-120.2],[47.0,-123.5],[47.8,-119.8],[48.4,-122.6],[49.0,-117.9],[49.6,-126.2],[50.1,-118.5],[50.7,-123.8],[51.3,-121.0],[51.9,-119.8],[52.5,-124.0],[53.1,-117.7],[53.6,-126.0],[54.4,-118.3],[55.0,-122.4],[55.6,-120.8],[56.3,-122.3],[57.0,-121.0],[57.7,-122.5],[58.5,-120.2],[59.2,-122.8],[59.9,-120.6],[60.6,-122.2],[61.3,-120.8],[62.0,-122.6],[62.8,-121.2],[63.6,-119.0],[64.4,-123.9],[65.0,-121.0],[65.7,-120.2],[66.2,-122.6],[66.7,-119.7],[67.3,-125.1],[67.9,-119.6],[68.3,-121.5],[68.6,-119.2],[69.4,-124.7],[69.9,-119.0],[70.5,-122.7],[71.2,-121.0],[72.0,-119.9],[72.7,-123.1],[73.4,-121.2],[74.1,-122.3],[74.8,-121.0],[75.5,-122.2],[76.2,-121.1],[76.9,-122.3],[77.6,-121.0],[78.6,-120.2],[79.5,-122.7],[80,-121.6]];

const panelAData = [aC3B1, aC4B1, aC3B2_09, aC4B2_09, aC3B2_19, aC4B2_19, aC3CL09, aC4CL09, aC3CL19, aC4CL19];
const panelBData = [bC3B1, bC4B1, bC3B2_09, bC4B2_09, bC3B2_19, bC4B2_19, bC3CL09, bC4CL09, bC3CL19, bC4CL19];

const FONT = "Liberation Serif";

export default function App() {
  const ref = useRef<HTMLDivElement>(null);
  useEffect(() => {
    if (!ref.current) return;
    const chart = echarts.init(ref.current, null, { renderer: "svg" });

    const series: any[] = [];
    [panelAData, panelBData].forEach((panel, p) => {
      panel.forEach((d, i) => {
        series.push({
          name: seriesNames[i],
          type: "line",
          xAxisIndex: p,
          yAxisIndex: p,
          data: d,
          symbol: "none",
          showSymbol: false,
          smooth: 0.4,
          smoothMonotone: "x",
          lineStyle: { width: 4, color: seriesColors[i] },
          itemStyle: { color: seriesColors[i] },
          silent: true,
        });
      });
    });

    const colX = [45, 311, 577, 838];
    const rowTopA = [551, 580, 609];
    const rowTopB = [1235, 1264, 1293];
    const legends: any[] = [];
    [rowTopA, rowTopB].forEach((rows) => {
      seriesNames.forEach((name, i) => {
        legends.push({
          data: [name],
          left: colX[i % 4],
          top: rows[Math.floor(i / 4)],
          padding: 0,
          itemWidth: 50,
          itemHeight: 3,
          icon: "rect",
          selectedMode: false,
          textStyle: { fontFamily: FONT, fontSize: 23, color: "#000", padding: [0, 0, 0, -2] },
        });
      });
    });

    const yAxisCommon = (t: any, margin: number, grid: number) => ({
      type: "value",
      gridIndex: grid,
      min: t.min,
      max: t.max,
      interval: t.interval,
      axisLine: { show: true, onZero: false, lineStyle: { color: "#BFBFBF", width: 1.5 } },
      axisTick: { show: false },
      splitLine: { show: false },
      axisLabel: { fontFamily: FONT, fontSize: 28, color: "#000", margin },
    });
    const xBottom = (grid: number, margin: number) => ({
      type: "value",
      gridIndex: grid,
      min: xTicks.min,
      max: xTicks.max,
      interval: xTicks.interval,
      axisLine: { show: false },
      axisTick: { show: false },
      splitLine: { show: false },
      axisLabel: { fontFamily: FONT, fontSize: 27, color: "#000", margin },
    });
    const xTop = (grid: number) => ({
      type: "value",
      gridIndex: grid,
      position: "top",
      min: xTicks.min,
      max: xTicks.max,
      axisLine: { show: true, onZero: false, lineStyle: { color: "#BFBFBF", width: 1.5 } },
      axisTick: { show: false },
      axisLabel: { show: false },
      splitLine: { show: false },
    });

    const textEl = (text: string, x: number, y: number, size: number) => ({
      type: "text",
      x,
      y,
      silent: true,
      style: { text, fontFamily: FONT, fontSize: size, fill: "#000", align: "center", verticalAlign: "middle" },
    });
    const yName = (y: number) => ({
      type: "text",
      x: 56,
      y,
      rotation: Math.PI / 2,
      silent: true,
      style: {
        text: "{d|δ}(cm)",
        fontFamily: FONT,
        fontSize: 27,
        fill: "#000",
        align: "center",
        verticalAlign: "middle",
        rich: { d: { fontFamily: FONT, fontSize: 29, fontWeight: "bold", fontStyle: "italic", fill: "#000" } },
      },
    });

    chart.setOption({
      animation: false,
      backgroundColor: "#fff",
      grid: [
        { left: 155, top: 12, width: 918, height: 450, containLabel: false },
        { left: 163, top: 695, width: 910, height: 455, containLabel: false },
      ],
      xAxis: [xBottom(0, 22), xBottom(1, 24), xTop(0), xTop(1)],
      yAxis: [yAxisCommon(yTicksA, 27, 0), yAxisCommon(yTicksB, 26, 1)],
      legend: legends,
      series,
      graphic: [
        textEl("t(s)", 605, 532, 27),
        textEl("t(s)", 605, 1217, 27),
        yName(237),
        yName(920),
        textEl("a)", 15, 632, 25),
        textEl("b)", 15, 1313, 25),
      ],
    });
    return () => chart.dispose();
  }, []);
  return (
    <div
      ref={ref}
      style={{ position: "absolute", left: 0, top: 0, width: 1093, height: 1329, background: "#fff" }}
    />
  );
}
